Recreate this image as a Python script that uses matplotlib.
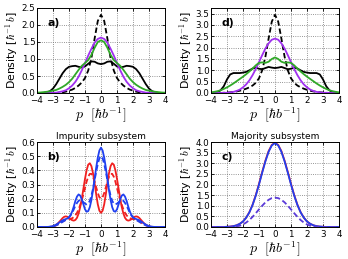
import numpy as np
import matplotlib
matplotlib.use("Agg")
import matplotlib.pyplot as plt

plt.rcParams['font.family'] = ['DejaVu Sans']
plt.rcParams['mathtext.fontset'] = 'cm'

# x grids (momentum p)
p_coarse = np.linspace(-4, 4, 41)   # step 0.2
p_fine = np.linspace(-4, 4, 81)     # step 0.1

# ---- panel a) ----
a_solid = [0.0, 0.0, 0.0, 0.02, 0.05, 0.13, 0.26, 0.42, 0.58, 0.70, 0.77, 0.79, 0.80, 0.77, 0.75, 0.78, 0.86, 0.93, 0.92, 0.87,
           0.85,
           0.87, 0.92, 0.93, 0.86, 0.78, 0.75, 0.77, 0.80, 0.79, 0.77, 0.70, 0.58, 0.42, 0.26, 0.13, 0.05, 0.02, 0.0, 0.0, 0.0]
a_dashed = [0, 0, 0, 0, 0, 0, 0, 0.01, 0.02, 0.04, 0.07, 0.10, 0.15, 0.22, 0.31, 0.44, 0.66, 1.02, 1.60, 2.12,
            2.30,
            2.12, 1.60, 1.02, 0.66, 0.44, 0.31, 0.22, 0.15, 0.10, 0.07, 0.04, 0.02, 0.01, 0, 0, 0, 0, 0, 0, 0]
a_purple = [0, 0, 0, 0, 0, 0.01, 0.01, 0.03, 0.05, 0.08, 0.14, 0.22, 0.33, 0.48, 0.67, 0.88, 1.10, 1.30, 1.48, 1.59,
            1.63,
            1.59, 1.48, 1.30, 1.10, 0.88, 0.67, 0.48, 0.33, 0.22, 0.14, 0.08, 0.05, 0.03, 0.01, 0.01, 0, 0, 0, 0, 0]
a_green = [0.01, 0.015, 0.025, 0.035, 0.05, 0.07, 0.09, 0.13, 0.18, 0.24, 0.32, 0.42, 0.55, 0.68, 0.80, 0.88, 0.97, 1.12, 1.33, 1.50,
           1.55,
           1.50, 1.33, 1.12, 0.97, 0.88, 0.80, 0.68, 0.55, 0.42, 0.32, 0.24, 0.18, 0.13, 0.09, 0.07, 0.05, 0.035, 0.025, 0.015, 0.01]

# ---- panel d) ----
d_solid = [0.0, 0.01, 0.04, 0.12, 0.30, 0.60, 0.82, 0.88, 0.88, 0.88, 0.90, 0.93, 1.00, 1.08, 1.12, 1.07, 1.05, 1.10, 1.15, 1.12,
           1.10,
           1.12, 1.15, 1.10, 1.05, 1.07, 1.12, 1.08, 1.00, 0.93, 0.90, 0.88, 0.88, 0.88, 0.82, 0.60, 0.30, 0.12, 0.04, 0.01, 0.0]
d_dashed = [0, 0, 0, 0, 0.01, 0.02, 0.03, 0.05, 0.07, 0.10, 0.14, 0.19, 0.25, 0.33, 0.45, 0.65, 1.00, 1.60, 2.40, 3.15,
            3.45,
            3.15, 2.40, 1.60, 1.00, 0.65, 0.45, 0.33, 0.25, 0.19, 0.14, 0.10, 0.07, 0.05, 0.03, 0.02, 0.01, 0, 0, 0, 0]
d_purple = [0, 0, 0, 0, 0.01, 0.01, 0.03, 0.05, 0.09, 0.15, 0.25, 0.38, 0.56, 0.79, 1.06, 1.36, 1.67, 1.96, 2.19, 2.35,
            2.40,
            2.35, 2.19, 1.96, 1.67, 1.36, 1.06, 0.79, 0.56, 0.38, 0.25, 0.15, 0.09, 0.05, 0.03, 0.01, 0.01, 0, 0, 0, 0]
d_green = [0.03, 0.05, 0.08, 0.12, 0.18, 0.25, 0.33, 0.42, 0.52, 0.62, 0.72, 0.83, 0.95, 1.08, 1.22, 1.33, 1.35, 1.33, 1.38, 1.50,
           1.57,
           1.50, 1.38, 1.33, 1.35, 1.33, 1.22, 1.08, 0.95, 0.83, 0.72, 0.62, 0.52, 0.42, 0.33, 0.25, 0.18, 0.12, 0.08, 0.05, 0.03]

# ---- panel b) impurity subsystem ----
b_blue = [0, 0, 0, 0, 0, 0, 0, 0.001, 0.002, 0.004, 0.007, 0.011, 0.017, 0.024, 0.032, 0.04, 0.047, 0.052, 0.056, 0.06,
          0.068, 0.085, 0.11, 0.145, 0.185, 0.215, 0.23, 0.222, 0.195, 0.16, 0.125, 0.108, 0.112, 0.14, 0.19, 0.26, 0.34, 0.42, 0.49, 0.54,
          0.56,
          0.54, 0.49, 0.42, 0.34, 0.26, 0.19, 0.14, 0.112, 0.108, 0.125, 0.16, 0.195, 0.222, 0.23, 0.215, 0.185, 0.145, 0.11, 0.085, 0.068,
          0.06, 0.056, 0.052, 0.047, 0.04, 0.032, 0.024, 0.017, 0.011, 0.007, 0.004, 0.002, 0.001, 0, 0, 0, 0, 0, 0, 0]
b_red = [0, 0, 0, 0, 0, 0, 0, 0, 0.001, 0.002, 0.005, 0.009, 0.016, 0.025, 0.037, 0.05, 0.063, 0.072, 0.075, 0.072,
         0.065, 0.055, 0.048, 0.045, 0.05, 0.065, 0.095, 0.14, 0.20, 0.27, 0.34, 0.40, 0.44, 0.45, 0.43, 0.38, 0.31, 0.23, 0.16, 0.115,
         0.10,
         0.115, 0.16, 0.23, 0.31, 0.38, 0.43, 0.45, 0.44, 0.40, 0.34, 0.27, 0.20, 0.14, 0.095, 0.065, 0.05, 0.045, 0.048, 0.055,
         0.065, 0.072, 0.075, 0.072, 0.063, 0.05, 0.037, 0.025, 0.016, 0.009, 0.005, 0.002, 0.001, 0, 0, 0, 0, 0, 0, 0, 0]
b_red_dashed = [0, 0, 0, 0, 0, 0, 0, 0, 0.001, 0.003, 0.005, 0.008, 0.012, 0.018, 0.025, 0.032, 0.039, 0.045, 0.05, 0.054,
                0.056, 0.058, 0.062, 0.07, 0.082, 0.10, 0.125, 0.155, 0.19, 0.23, 0.275, 0.32, 0.355, 0.375, 0.375, 0.355, 0.32, 0.28, 0.24, 0.21,
                0.20,
                0.21, 0.24, 0.28, 0.32, 0.355, 0.375, 0.375, 0.355, 0.32, 0.275, 0.23, 0.19, 0.155, 0.125, 0.10, 0.082, 0.07, 0.062, 0.058,
                0.056, 0.054, 0.05, 0.045, 0.039, 0.032, 0.025, 0.018, 0.012, 0.008, 0.005, 0.003, 0.001, 0, 0, 0, 0, 0, 0, 0, 0]
b_blue_dashed = [0, 0, 0, 0, 0, 0, 0, 0, 0.001, 0.003, 0.005, 0.008, 0.012, 0.017, 0.023, 0.029, 0.036, 0.043, 0.05, 0.058,
                 0.068, 0.082, 0.10, 0.125, 0.15, 0.17, 0.185, 0.19, 0.185, 0.175, 0.165, 0.16, 0.165, 0.185, 0.22, 0.27, 0.33, 0.39, 0.445, 0.485,
                 0.50,
                 0.485, 0.445, 0.39, 0.33, 0.27, 0.22, 0.185, 0.165, 0.16, 0.165, 0.175, 0.185, 0.19, 0.185, 0.17, 0.15, 0.125, 0.10, 0.082,
                 0.068, 0.058, 0.05, 0.043, 0.036, 0.029, 0.023, 0.017, 0.012, 0.008, 0.005, 0.003, 0.001, 0, 0, 0, 0, 0, 0, 0, 0]

# ---- panel c) majority subsystem ----
c_red = [0, 0, 0, 0, 0, 0.01, 0.02, 0.04, 0.08, 0.15, 0.26, 0.44, 0.70, 1.05, 1.50, 2.03, 2.59, 3.12, 3.57, 3.86,
         3.97,
         3.86, 3.57, 3.12, 2.59, 2.03, 1.50, 1.05, 0.70, 0.44, 0.26, 0.15, 0.08, 0.04, 0.02, 0.01, 0, 0, 0, 0, 0]
c_blue = [0, 0, 0, 0, 0, 0.01, 0.02, 0.04, 0.08, 0.15, 0.26, 0.44, 0.69, 1.04, 1.48, 2.00, 2.56, 3.09, 3.54, 3.84,
          3.95,
          3.84, 3.54, 3.09, 2.56, 2.00, 1.48, 1.04, 0.69, 0.44, 0.26, 0.15, 0.08, 0.04, 0.02, 0.01, 0, 0, 0, 0, 0]
c_dashed = [0, 0, 0, 0, 0, 0, 0, 0.01, 0.03, 0.06, 0.12, 0.21, 0.33, 0.48, 0.65, 0.83, 1.00, 1.16, 1.28, 1.36,
            1.38,
            1.36, 1.28, 1.16, 1.00, 0.83, 0.65, 0.48, 0.33, 0.21, 0.12, 0.06, 0.03, 0.01, 0, 0, 0, 0, 0, 0, 0]

xticks = [-4, -3, -2, -1, 0, 1, 2, 3, 4]
yticks_a = [0.0, 0.5, 1.0, 1.5, 2.0, 2.5]
yticks_d = [0.0, 0.5, 1.0, 1.5, 2.0, 2.5, 3.0, 3.5]
yticks_b = [0.0, 0.1, 0.2, 0.3, 0.4, 0.5, 0.6]
yticks_c = [0.0, 0.5, 1.0, 1.5, 2.0, 2.5, 3.0, 3.5, 4.0]

PURPLE = '#a030f0'
GREEN = '#30a828'
RED = '#f02020'
BLUE = '#2040f0'
CDASH = '#5a3ad8'
LW = 1.3

fig = plt.figure(figsize=(3.48, 2.59), dpi=100)
W, H = 348.0, 259.0
def box(l, t, r, b):
    return [l / W, 1 - b / H, (r - l) / W, (b - t) / H]

ax_a = fig.add_axes(box(37, 8, 165, 93))
ax_d = fig.add_axes(box(211, 8, 339, 93))
ax_b = fig.add_axes(box(37, 142, 165, 227))
ax_c = fig.add_axes(box(211, 142, 339, 227))

def style(ax, yticks, ylim, label):
    ax.set_xlim(-4, 4)
    ax.set_ylim(*ylim)
    ax.set_xticks(xticks)
    ax.set_yticks(yticks)
    ax.set_yticklabels(['%.1f' % v for v in yticks])
    ax.tick_params(direction='in', top=True, right=True, labelsize=6.3, length=2.5, width=0.6)
    ax.tick_params(axis='x', pad=2.2)
    ax.tick_params(axis='y', pad=1.2)
    ax.grid(True, linestyle=':', color='0.45', linewidth=0.6)
    for s in ax.spines.values():
        s.set_linewidth(0.7)
    ax.set_xlabel(r'$p\ \ [\hbar b^{-1}]$', fontsize=10, labelpad=0.5)
    ax.set_ylabel(r'Density [$\hbar^{-1}\,b$]', fontsize=7.8, labelpad=1)
    ax.text(0.08, 0.82, label, transform=ax.transAxes, fontsize=7.8, fontweight='bold', ha='left', va='center')

# a
ax_a.plot(p_coarse, a_solid, color='k', lw=LW)
ax_a.plot(p_coarse, a_dashed, color='k', lw=LW, ls='--', dashes=(3, 1.6))
ax_a.plot(p_coarse, a_purple, color=PURPLE, lw=LW)
ax_a.plot(p_coarse, a_green, color=GREEN, lw=LW)
style(ax_a, yticks_a, (0, 2.5), 'a)')

# d
ax_d.plot(p_coarse, d_solid, color='k', lw=LW)
ax_d.plot(p_coarse, d_dashed, color='k', lw=LW, ls='--', dashes=(3, 1.6))
ax_d.plot(p_coarse, d_purple, color=PURPLE, lw=LW)
ax_d.plot(p_coarse, d_green, color=GREEN, lw=LW)
style(ax_d, yticks_d, (0, 3.75), 'd)')

# b
ax_b.plot(p_fine, b_red, color=RED, lw=LW)
ax_b.plot(p_fine, b_red_dashed, color=RED, lw=LW, ls='--', dashes=(3, 1.6))
ax_b.plot(p_fine, b_blue, color=BLUE, lw=LW)
ax_b.plot(p_fine, b_blue_dashed, color=BLUE, lw=LW, ls='--', dashes=(3, 1.6))
style(ax_b, yticks_b, (0, 0.6), 'b)')
ax_b.set_title('Impurity subsystem', fontsize=6.5, pad=2)

# c
ax_c.plot(p_coarse, c_red, color=RED, lw=LW)
ax_c.plot(p_coarse, c_blue, color=BLUE, lw=LW)
ax_c.plot(p_coarse, c_dashed, color=CDASH, lw=LW, ls='--', dashes=(3, 1.6))
style(ax_c, yticks_c, (0, 4.0), 'c)')
ax_c.set_title('Majority subsystem', fontsize=6.5, pad=2)

fig.savefig('out.png', dpi=100)
